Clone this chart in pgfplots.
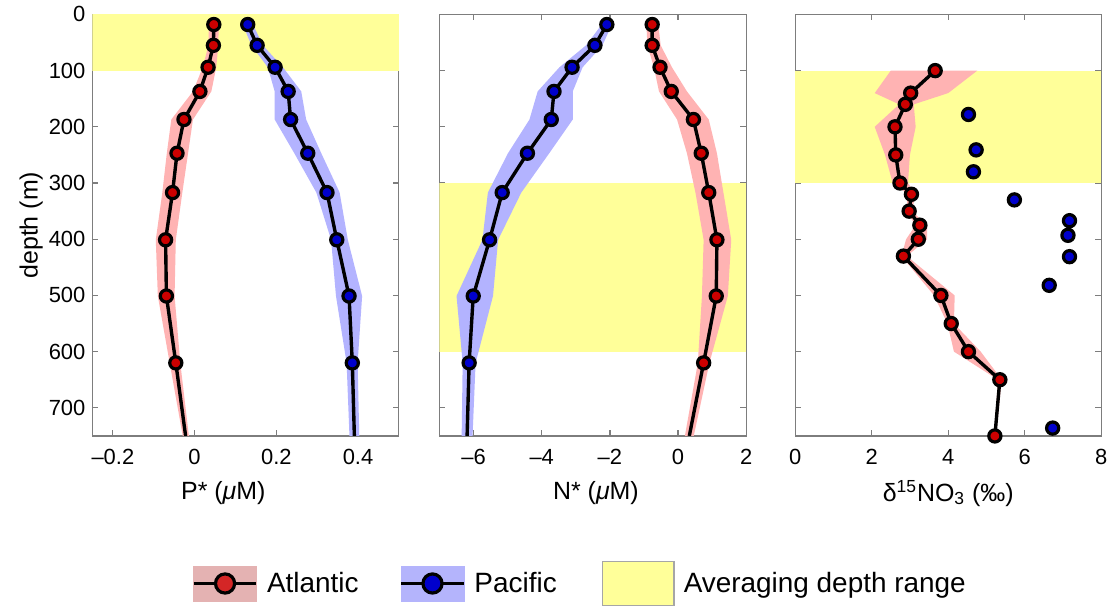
\documentclass[border=0pt]{standalone}
\usepackage{fontspec}
\setmainfont{Liberation Sans}
\usepackage{pgfplots}
\pgfplotsset{compat=1.18}
\usepackage{pgfplotstable}
\usepgfplotslibrary{fillbetween}
\tikzset{fill between/on layer=main}

\definecolor{ybg}{RGB}{255,255,153}
\definecolor{rband}{RGB}{255,179,179}
\definecolor{bband}{RGB}{179,179,255}
\definecolor{rmark}{RGB}{204,0,0}
\definecolor{bmark}{RGB}{0,0,204}
\definecolor{axgray}{RGB}{125,125,125}
\definecolor{legA}{RGB}{228,178,178}
\definecolor{legB}{RGB}{180,180,252}

% P* (uM)
\pgfplotstableread{
d v lo hi
18 0.047 0.035 0.059
55 0.046 0.034 0.058
94 0.033 0.020 0.053
137 0.013 -0.004 0.041
187 -0.026 -0.057 -0.004
247 -0.043 -0.068 -0.016
317 -0.054 -0.079 -0.030
401 -0.071 -0.095 -0.046
501 -0.069 -0.090 -0.049
620 -0.046 -0.061 -0.035
750 -0.022 -0.029 -0.014
}\atlP
\pgfplotstableread{
d v lo hi
18 0.130 0.118 0.143
55 0.153 0.139 0.167
94 0.197 0.179 0.216
137 0.229 0.196 0.261
187 0.235 0.196 0.273
247 0.277 0.244 0.310
317 0.324 0.298 0.355
401 0.348 0.334 0.375
501 0.378 0.346 0.410
620 0.386 0.372 0.399
750 0.391 0.379 0.403
}\pacP
% N* (uM)
\pgfplotstableread{
d v lo hi
18 -0.76 -0.93 -0.58
55 -0.76 -0.90 -0.51
94 -0.53 -0.71 -0.18
137 -0.20 -0.56 0.26
187 0.45 -0.03 0.90
247 0.68 0.26 1.14
317 0.90 0.51 1.33
401 1.14 0.75 1.56
501 1.12 0.70 1.46
620 0.75 0.58 0.92
750 0.33 0.20 0.46
}\atlN
\pgfplotstableread{
d v lo hi
18 -2.09 -2.24 -1.94
55 -2.44 -2.70 -2.22
94 -3.11 -3.48 -2.80
137 -3.64 -4.12 -3.09
187 -3.72 -4.36 -3.09
247 -4.42 -4.99 -3.78
317 -5.16 -5.58 -4.60
401 -5.53 -5.74 -5.28
501 -6.01 -6.50 -5.43
620 -6.13 -6.32 -5.94
750 -6.19 -6.35 -6.03
}\pacN
% d15NO3 (permil)
\pgfplotstableread{
d v lo hi
100 3.66 2.50 4.76
140 3.02 2.08 4.00
160 2.88 2.72 3.10
200 2.61 2.08 3.15
250 2.63 2.35 3.00
300 2.74 2.55 2.95
320 3.04 2.95 3.15
350 2.98 2.90 3.05
375 3.26 3.15 3.45
400 3.22 2.90 3.45
430 2.83 2.78 2.92
500 3.81 3.63 4.17
550 4.08 3.98 4.15
600 4.53 4.15 4.85
650 5.35 5.30 5.40
750 5.22 5.20 5.25
}\atlD
\pgfplotstableread{
d v
178 4.53
241 4.73
280 4.66
330 5.73
367 7.17
393 7.13
431 7.17
482 6.64
736 6.73
}\pacD

\pgfplotsset{
 panel/.style={
  scale only axis, height=211.35pt,
  anchor=north west,
  y dir=reverse, ymin=0, ymax=750, ytick={0,100,...,700},
  axis line style={axgray, line width=0.6pt},
  every tick/.style={axgray, line width=0.6pt},
  major tick length=3pt,
  tick align=inside,
  tick label style={font=\fontsize{11}{13}\selectfont},
  xticklabel style={yshift=-3pt},
  label style={font=\fontsize{12.5}{15}\selectfont},
  /pgf/number format/assume math mode=true,
 },
 lineA/.style={black, line width=1.7pt, mark=*, mark size=3.05pt,
   mark options={fill=rmark, draw=black, line width=1.6pt}},
 lineB/.style={black, line width=1.7pt, mark=*, mark size=3.05pt,
   mark options={fill=bmark, draw=black, line width=1.6pt}},
}

\begin{document}
\begin{tikzpicture}

% ---------- Panel 1: P* ----------
\begin{axis}[panel, at={(46.35pt,-7pt)}, width=153.65pt,
  xmin=-0.25, xmax=0.5, xtick={-0.2,0,0.2,0.4},
  xticklabels={--0.2,0,0.2,0.4},
  yticklabels={0,100,200,300,400,500,600,700},
  xlabel={P* (\textit{μ}M)}, ylabel={depth (m)},
  xlabel style={at={(axis description cs:0.427,-0.136)}, anchor=center},
  ylabel style={at={(axis description cs:-0.2,0.5)}, anchor=center},
  legend columns=3,
  legend style={draw=none, fill=none, inner sep=0pt, outer sep=0pt,
    at={(axis description cs:0.325,-0.35)}, anchor=west,
    font=\fontsize{14}{16}\selectfont,
    /tikz/column 1/.style={column sep=2.5pt},
    /tikz/column 2/.style={column sep=18.5pt},
    /tikz/column 3/.style={column sep=2.5pt},
    /tikz/column 4/.style={column sep=20.5pt},
    /tikz/column 5/.style={column sep=2.5pt}},
  legend cell align=left,
]
\addplot[fill=ybg, draw=none, forget plot] coordinates {(-0.25,0) (0.5,0) (0.5,100) (-0.25,100)} -- cycle;
\addplot[name path=pa, draw=none, forget plot] table[x=lo,y=d]{\atlP};
\addplot[name path=pb, draw=none, forget plot] table[x=hi,y=d]{\atlP};
\addplot[rband, forget plot] fill between[of=pa and pb];
\addplot[name path=pc, draw=none, forget plot] table[x=lo,y=d]{\pacP};
\addplot[name path=pd, draw=none, forget plot] table[x=hi,y=d]{\pacP};
\addplot[bband, forget plot] fill between[of=pc and pd];
\addplot[lineA, mark indices={1,...,10}, forget plot] table[x=v,y=d]{\atlP};
\addplot[lineB, mark indices={1,...,10}, forget plot] table[x=v,y=d]{\pacP};

\addlegendimage{legend image code/.code={
  \fill[legA] (0pt,-8.75pt) rectangle (31.5pt,8.75pt);
  \draw[black, line width=1.6pt] (0pt,0pt) -- (31.5pt,0pt);
  \draw[black, line width=1.6pt, fill=rmark!85!white] (15.75pt,0pt) circle (4.8pt);}}
\addlegendentry{Atlantic}
\addlegendimage{legend image code/.code={
  \fill[legB] (0pt,-8.75pt) rectangle (31.5pt,8.75pt);
  \draw[black, line width=1.6pt] (0pt,0pt) -- (31.5pt,0pt);
  \draw[black, line width=1.6pt, fill=bmark] (15.75pt,0pt) circle (4.8pt);}}
\addlegendentry{Pacific}
\addlegendimage{legend image code/.code={
  \draw[fill=ybg, draw=gray!70, line width=0.7pt] (0pt,-11pt) rectangle (36pt,11pt);}}
\addlegendentry{Averaging depth range}
\end{axis}

% ---------- Panel 2: N* ----------
\begin{axis}[panel, at={(220.35pt,-7pt)}, width=153.8pt,
  xmin=-7, xmax=2, xtick={-6,-4,-2,0,2},
  xticklabels={--6,--4,--2,0,2},
  yticklabels={},
  xlabel={N* (\textit{μ}M)},
  xlabel style={at={(axis description cs:0.51,-0.136)}, anchor=center},
]
\addplot[fill=ybg, draw=none] coordinates {(-7,300) (2,300) (2,600) (-7,600)} -- cycle;
\addplot[name path=na, draw=none] table[x=lo,y=d]{\atlN};
\addplot[name path=nb, draw=none] table[x=hi,y=d]{\atlN};
\addplot[rband] fill between[of=na and nb];
\addplot[name path=nc, draw=none] table[x=lo,y=d]{\pacN};
\addplot[name path=nd, draw=none] table[x=hi,y=d]{\pacN};
\addplot[bband] fill between[of=nc and nd];
\addplot[lineA, mark indices={1,...,10}] table[x=v,y=d]{\atlN};
\addplot[lineB, mark indices={1,...,10}] table[x=v,y=d]{\pacN};
\end{axis}

% ---------- Panel 3: d15NO3 ----------
\begin{axis}[panel, at={(398.65pt,-7pt)}, width=153.5pt,
  xmin=0, xmax=8, xtick={0,2,4,6,8},
  xticklabels={0,2,4,6,8},
  yticklabels={},
  xlabel={δ\textsuperscript{15}NO\textsubscript{3} (‰)},
  xlabel style={at={(axis description cs:0.5,-0.136)}, anchor=center},
]
\addplot[fill=ybg, draw=none] coordinates {(0,100) (8,100) (8,300) (0,300)} -- cycle;
\addplot[name path=da, draw=none] table[x=lo,y=d]{\atlD};
\addplot[name path=db, draw=none] table[x=hi,y=d]{\atlD};
\addplot[rband] fill between[of=da and db];
\addplot[lineA] table[x=v,y=d]{\atlD};
\addplot[only marks, mark=*, mark size=3.05pt,
  mark options={fill=bmark, draw=black, line width=1.6pt}] table[x=v,y=d]{\pacD};
\end{axis}

\path (0pt,0pt) rectangle (557pt,-304pt);
\end{tikzpicture}
\end{document}
